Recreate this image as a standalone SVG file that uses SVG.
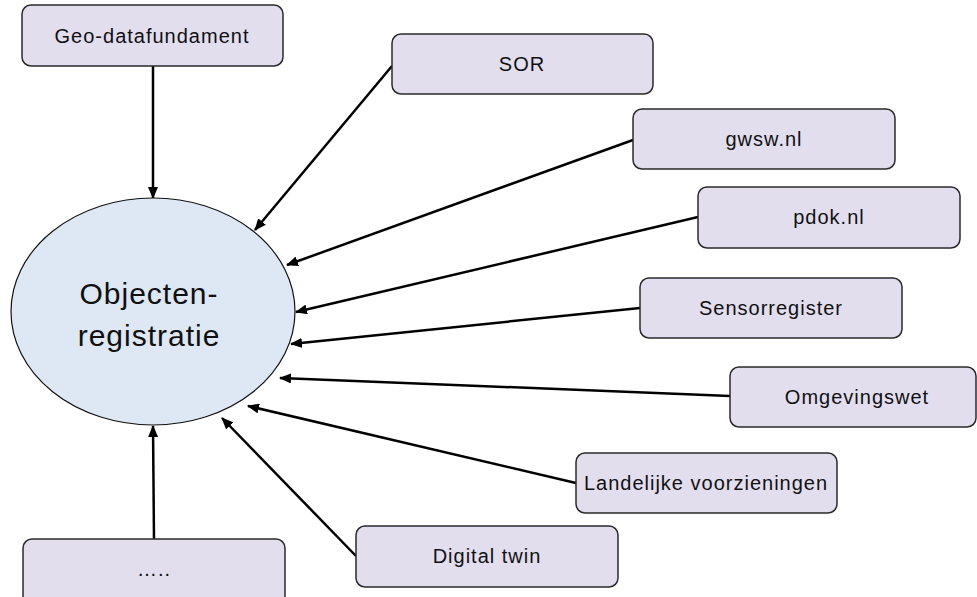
<svg xmlns="http://www.w3.org/2000/svg" width="977" height="597" viewBox="0 0 977 597">
<defs>
<marker id="ah" markerUnits="userSpaceOnUse" markerWidth="12" markerHeight="10" refX="11" refY="5" orient="auto">
<path d="M0,0 L12,5 L0,10 Z" fill="#000"/>
</marker>
<style>
.box{fill:#E3DEEE;stroke:#2a2a2a;stroke-width:1.5}
.lbl{font-family:"Liberation Sans",Arial,sans-serif;font-size:20px;letter-spacing:1px;fill:#111;text-anchor:middle}
.big{font-family:"Liberation Sans",Arial,sans-serif;font-size:30px;letter-spacing:1px;fill:#111;text-anchor:middle}
.con{stroke:#000;stroke-width:2.5;fill:none;marker-end:url(#ah)}
</style>
</defs>
<rect width="977" height="597" fill="#fff"/>
<g id="connectors">
<line class="con" x1="153" y1="66" x2="153" y2="198"/>
<line class="con" x1="392" y1="66" x2="255" y2="230"/>
<line class="con" x1="633" y1="140" x2="287" y2="265"/>
<line class="con" x1="698" y1="217" x2="296" y2="312"/>
<line class="con" x1="640" y1="308" x2="291" y2="344"/>
<line class="con" x1="730" y1="396" x2="280" y2="378"/>
<line class="con" x1="576" y1="483" x2="248" y2="406"/>
<line class="con" x1="356" y1="556" x2="222" y2="418"/>
<line class="con" x1="154" y1="539" x2="153" y2="426"/>
</g>
<g id="objectenregistratie">
<ellipse cx="153" cy="311.5" rx="142" ry="113.5" fill="#DDE8F4" stroke="#111" stroke-width="1.2"/>
<text class="big" x="149" y="304">Objecten-</text>
<text class="big" x="149" y="346">registratie</text>
</g>
<g id="geo-datafundament">
<rect class="box" x="22" y="5" width="261" height="61" rx="9"/>
<text class="lbl" x="152" y="43">Geo-datafundament</text>
</g>
<g id="sor">
<rect class="box" x="392" y="34" width="261" height="60" rx="9"/>
<text class="lbl" x="522" y="71">SOR</text>
</g>
<g id="gwsw">
<rect class="box" x="633" y="109" width="262" height="60" rx="9"/>
<text class="lbl" x="764" y="146">gwsw.nl</text>
</g>
<g id="pdok">
<rect class="box" x="698" y="187" width="262" height="61" rx="9"/>
<text class="lbl" x="829" y="224">pdok.nl</text>
</g>
<g id="sensorregister">
<rect class="box" x="640" y="278" width="262" height="60" rx="9"/>
<text class="lbl" x="771" y="315">Sensorregister</text>
</g>
<g id="omgevingswet">
<rect class="box" x="730" y="367" width="246" height="60" rx="9"/>
<text class="lbl" x="857" y="404">Omgevingswet</text>
</g>
<g id="landelijke-voorzieningen">
<rect class="box" x="576" y="453" width="261" height="60" rx="9"/>
<text class="lbl" x="706" y="490">Landelijke voorzieningen</text>
</g>
<g id="digital-twin">
<rect class="box" x="356" y="526" width="262" height="61" rx="9"/>
<text class="lbl" x="487" y="563">Digital twin</text>
</g>
<g id="more">
<rect class="box" x="23" y="539" width="262" height="66" rx="9"/>
<text class="lbl" x="154" y="576">…..</text>
</g>
</svg>
